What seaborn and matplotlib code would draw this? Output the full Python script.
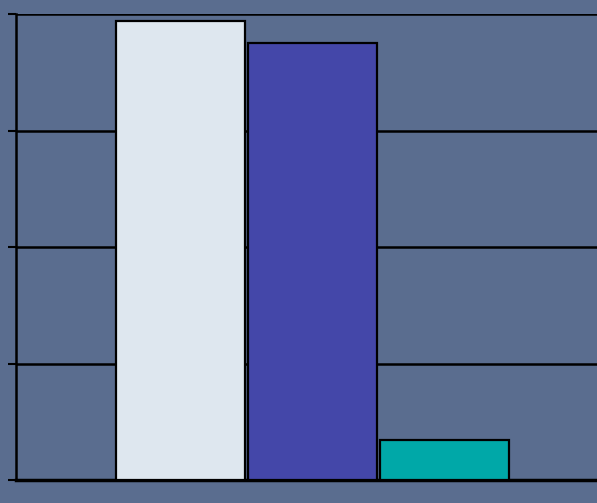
import matplotlib
matplotlib.use("Agg")
import matplotlib.pyplot as plt
import seaborn as sns
import pandas as pd

# Datos del gráfico
series = ["A", "B", "C"]
valores = [3.94, 3.75, 0.34]
colores = ["#dee7ef", "#4447a9", "#00a8a8"]

df = pd.DataFrame({"serie": series, "valor": valores})

sns.set_style("white")
fig = plt.figure(figsize=(5.97, 5.03), dpi=100)
fig.patch.set_facecolor("#5a6d8f")
ax = fig.add_axes([16 / 597, 23 / 503, 593 / 597, 466 / 503])
ax.set_facecolor("#5a6d8f")

sns.barplot(data=df, x="serie", y="valor", hue="serie", palette=colores,
            saturation=1, width=0.975, edgecolor="black", linewidth=1.6,
            legend=False, ax=ax, zorder=3)

ax.set_ylim(0, 4)
ax.set_xlim(-1.242, 3.246)
ax.set_yticks([0, 1, 2, 3, 4])
ax.yaxis.grid(True, color="black", linewidth=1.8, zorder=0)
ax.set_axisbelow(True)
ax.tick_params(axis="y", left=True, length=6, width=1.5, color="black",
               labelleft=False)
ax.tick_params(axis="x", bottom=False, labelbottom=False)
ax.set_xlabel("")
ax.set_ylabel("")
for s in ["top", "right"]:
    ax.spines[s].set_visible(False)
ax.spines["left"].set_color("black")
ax.spines["left"].set_linewidth(1.8)
ax.spines["bottom"].set_color("black")
ax.spines["bottom"].set_linewidth(2.5)

fig.savefig("out.png", dpi=100, facecolor=fig.get_facecolor())
